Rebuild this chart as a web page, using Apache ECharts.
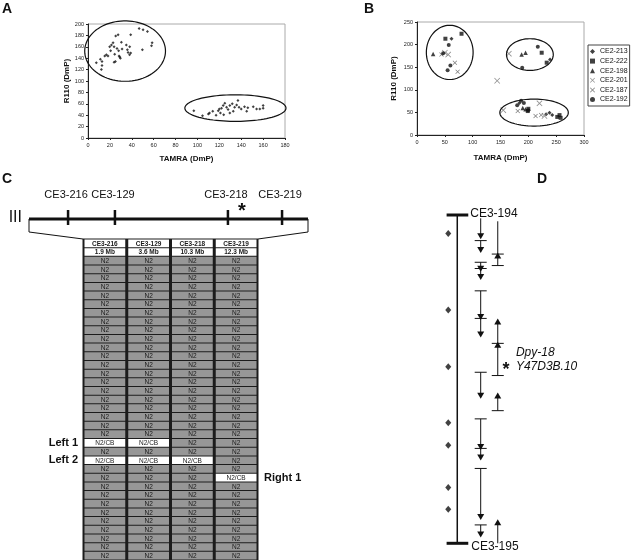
<!DOCTYPE html>
<html>
<head>
<meta charset="utf-8">
<script src="https://cdn.jsdelivr.net/npm/echarts@6/dist/echarts.min.js"></script>
<style>
  html, body { margin: 0; padding: 0; background: #fff; }
  #chart { width: 632px; height: 560px; }
</style>
</head>
<body>
<div id="chart"></div>
<script>
// ---- panel A : genotyping scatter (TAMRA vs R110) ----
const aGroup1 = [[7.6,132],[11.3,138],[12.8,134],[12.8,127],[12.2,120],[15.3,144],[16.8,146],[18.3,144],
  [19.8,160],[20.7,153],[21.4,163],[22.9,167],[23.8,160],[24.4,147],[23.8,133],[25,134],[25.3,179],
  [27.5,181],[26.5,157],[28,153],[28.4,144],[29.6,140],[29,142],[30.5,168],[31.1,156],[35,163],[36,155],
  [36.6,150],[38.1,160],[39,149],[38,146],[39,181],[46.7,192],[50.3,190],[54.3,187],[49.7,155],[58,162],[58.6,167]];
const aGroup2 = [[96.7,48],[104.6,39],[110,42],[111,44],[114,47],[117,40],[119,48],[120,51],[121,44],
  [122,52],[123.5,57],[125,61],[126.6,54],[128,50],[129.6,57],[131.8,60],[132.7,47],[134,54],[135.8,58],
  [137,66],[138,54],[140,51],[143,55],[145,47],[146,53],[151,55],[154,51],[157,51],[160,57],[160,52],
  [129.6,44],[124,41]];
const aEllipses = [[33.9,152.5,36.9,53],[134.7,52.5,46.2,23.3]]; // cx, cy, rx, ry

// ---- panel B : six markers ----
const bNames = ['CE2-213','CE2-222','CE2-198','CE2-201','CE2-187','CE2-192'];
const b213 = [[62,213],[239,167],[184,71],[238,49],[243,44],[232,46]];
const b222 = [[80,224],[51,213],[224,182],[233,160],[199,53],[252,40],[256,44],[258,38],[200,58]];
const b198 = [[29,179],[188,178],[195,182],[195,57],[190,60]];
const b201 = [[50,182],[56,178],[144,120],[165,180],[155,55],[220,70],[229,42]];
const b187 = [[68,160],[73,140],[44,178],[181,53],[213,42],[223,44]];
const b192 = [[57,199],[60,154],[55,143],[47,181],[217,195],[189,149],[180,66],[187,76],[192,71],[200,55]];
const bEllipses = [[58.8,182.7,42,60],[202.8,178,42,35],[210.3,49.6,61.5,29.8]];

// ---- panel C : chromosome III and recombinant table ----
const markers = ['CE3-216','CE3-129','CE3-218','CE3-219'];
const markerMb = ['1.9 Mb','3.6 Mb','10.3 Mb','12.3 Mb'];
const chromPos = [14, 30.8, 71.3, 90.7];   // drawn position along bar (0-100)
const starPos = 76.3;
const wormCount = 35;
const recombRows = [21, 23, 25];
const recombLabels = ['Left 1','Left 2','Right 1'];
const recombCols = [[0,1],[0,1,2],[3]];

// ---- panel D : fine mapping ----
const dEnds = ['CE3-194','CE3-195'];
const dDiamonds = [5.6, 28.9, 46.2, 63.3, 70.1, 83, 89.6];
const dDown = [[1,7.4,0],[7.8,11.6,1],[14.4,17.3,1],[16.3,19.8,1],[23.1,32,1],[31.5,37.3,1],
  [47.9,56,1],[62.1,71.6,1],[71.1,74.8,1],[77.2,92.9,1],[94.4,98.2,1]]; // start, tip, tick
const dUp = [[1,11.9,0,1],[11.4,15.4,1,1],[31.5,39.1,1,1],[38.6,48.9,1,1],[54.1,59.6,1,1],[92.7,100,1,0]]; // tip, end, arrow, tick
const geneLabels = ['Dpy-18','Y47D3B.10'];
const geneAt = 45.4;

const FONT = 'Liberation Sans, Arial, sans-serif';
const INK = '#111';
const TABLE = { left: 83, top: 239, width: 175, height: 321 };
const CHROM = { left: 29, top: 185, width: 279, height: 50 };

function ellipseItem(params, api) {
  const cx = api.value(0), cy = api.value(1), rx = api.value(2), ry = api.value(3);
  const pts = [];
  for (let k = 0; k < 90; k++) {
    const t = k / 90 * Math.PI * 2;
    pts.push(api.coord([cx + rx * Math.cos(t), cy + ry * Math.sin(t)]));
  }
  return { type: 'polygon', shape: { points: pts }, style: { fill: 'none', stroke: INK, lineWidth: 1.2 } };
}

function scatterAxis(gi, max, step, name, gap) {
  return {
    gridIndex: gi, type: 'value', min: 0, max: max, interval: step,
    name: name, nameLocation: 'middle', nameGap: gap,
    nameTextStyle: { fontSize: 8, fontWeight: 'bold', color: INK, fontFamily: FONT },
    axisLine: { show: true, onZero: false, lineStyle: { color: '#222', width: 1 } },
    axisTick: { show: true, length: 2, lineStyle: { color: '#222' } },
    axisLabel: { fontSize: 5.5, color: '#222', margin: 4, fontFamily: FONT },
    splitLine: { show: false }
  };
}
function hiddenAxis(gi, opts) {
  return Object.assign({ gridIndex: gi, show: false, splitLine: { show: false } }, opts);
}

const cross = 'path://M1,0 L5,4 L9,0 L10,1 L6,5 L10,9 L9,10 L5,6 L1,10 L0,9 L4,5 L0,1 Z';

// table cells
const cells = [];
markers.forEach((m, c) => {
  cells.push([c, 0, m, 'head']);
  cells.push([c, 1, markerMb[c], 'head']);
});
for (let r = 0; r < wormCount; r++) {
  for (let c = 0; c < markers.length; c++) {
    const k = recombRows.indexOf(r);
    const cb = k >= 0 && recombCols[k].indexOf(c) >= 0;
    cells.push([c, r + 2, cb ? 'N2/CB' : 'N2', cb ? 'cb' : 'n2']);
  }
}
const rowNames = [];
for (let r = 0; r < wormCount + 2; r++) rowNames.push('r' + r);

const chart = echarts.init(document.getElementById('chart'), null, { renderer: 'canvas' });

const option = {
  animation: false,
  backgroundColor: '#fff',
  textStyle: { fontFamily: FONT },
  graphic: [
    { type: 'text', left: 2, top: 2, style: { text: 'A', font: 'bold 14px ' + FONT, fill: INK } },
    { type: 'text', left: 364, top: 2, style: { text: 'B', font: 'bold 14px ' + FONT, fill: INK } },
    { type: 'text', left: 2, top: 172, style: { text: 'C', font: 'bold 14px ' + FONT, fill: INK } },
    { type: 'text', left: 537, top: 172, style: { text: 'D', font: 'bold 14px ' + FONT, fill: INK } }
  ],
  legend: {
    orient: 'vertical', left: 588, top: 45, padding: [3, 2, 3, 2],
    itemWidth: 5, itemHeight: 5, itemGap: 2.6,
    borderColor: '#444', borderWidth: 1,
    textStyle: { fontSize: 7, color: INK, fontFamily: FONT },
    data: bNames
  },
  grid: [
    { left: 88, top: 24, width: 197, height: 114, show: true, borderColor: '#aaa', borderWidth: 1 },
    { left: 417, top: 22, width: 167, height: 113, show: true, borderColor: '#aaa', borderWidth: 1 },
    { left: CHROM.left, top: CHROM.top, width: CHROM.width, height: CHROM.height },
    { left: TABLE.left, top: TABLE.top, width: TABLE.width, height: TABLE.height,
      show: true, backgroundColor: '#1c1c1c', borderColor: '#1c1c1c', borderWidth: 1 },
    { left: 440, top: 215, width: 110, height: 328.3 }
  ],
  xAxis: [
    scatterAxis(0, 180, 20, 'TAMRA (DmP)', 17),
    scatterAxis(1, 300, 50, 'TAMRA (DmP)', 19),
    hiddenAxis(2, { type: 'value', min: 0, max: 100 }),
    hiddenAxis(3, { type: 'category', data: markers }),
    hiddenAxis(4, { type: 'value', min: 0, max: 10 })
  ],
  yAxis: [
    scatterAxis(0, 200, 20, 'R110 (DmP)', 17),
    scatterAxis(1, 250, 50, 'R110 (DmP)', 19),
    hiddenAxis(2, { type: 'value', min: -20, max: 30, inverse: true }),
    hiddenAxis(3, { type: 'category', data: rowNames, inverse: true }),
    hiddenAxis(4, { type: 'value', min: 0, max: 100, inverse: true })
  ],
  series: [
    // A
    { type: 'scatter', xAxisIndex: 0, yAxisIndex: 0, data: aGroup1, symbol: 'diamond', symbolSize: 3, itemStyle: { color: INK } },
    { type: 'scatter', xAxisIndex: 0, yAxisIndex: 0, data: aGroup2, symbol: 'diamond', symbolSize: 3, itemStyle: { color: INK } },
    { type: 'custom', xAxisIndex: 0, yAxisIndex: 0, data: aEllipses, renderItem: ellipseItem, z: 3 },
    // B
    { name: bNames[0], type: 'scatter', xAxisIndex: 1, yAxisIndex: 1, data: b213, symbol: 'diamond', symbolSize: 4, itemStyle: { color: INK } },
    { name: bNames[1], type: 'scatter', xAxisIndex: 1, yAxisIndex: 1, data: b222, symbol: 'rect', symbolSize: 4, itemStyle: { color: INK } },
    { name: bNames[2], type: 'scatter', xAxisIndex: 1, yAxisIndex: 1, data: b198, symbol: 'triangle', symbolSize: 4.5, itemStyle: { color: INK } },
    { name: bNames[3], type: 'scatter', xAxisIndex: 1, yAxisIndex: 1, data: b201, symbol: cross, symbolSize: 6, itemStyle: { color: '#777' } },
    { name: bNames[4], type: 'scatter', xAxisIndex: 1, yAxisIndex: 1, data: b187, symbol: cross, symbolSize: 4.5, itemStyle: { color: '#555' } },
    { name: bNames[5], type: 'scatter', xAxisIndex: 1, yAxisIndex: 1, data: b192, symbol: 'circle', symbolSize: 4, itemStyle: { color: INK } },
    { type: 'custom', xAxisIndex: 1, yAxisIndex: 1, data: bEllipses, renderItem: ellipseItem, z: 3 },
    // C chromosome bar + zoom trapezoid
    {
      type: 'custom', xAxisIndex: 2, yAxisIndex: 2, data: [[0, 100]],
      renderItem: function (params, api) {
        const a = api.coord([api.value(0), 14]), b = api.coord([api.value(1), 14]);
        const la = api.coord([api.value(0), 27]), lb = api.coord([api.value(1), 27]);
        const ls = { stroke: INK, lineWidth: 1 };
        return { type: 'group', children: [
          { type: 'line', shape: { x1: a[0], y1: a[1], x2: b[0], y2: b[1] }, style: { stroke: INK, lineWidth: 3 } },
          { type: 'line', shape: { x1: la[0], y1: a[1], x2: la[0], y2: la[1] }, style: ls },
          { type: 'line', shape: { x1: lb[0], y1: b[1], x2: lb[0], y2: lb[1] }, style: ls },
          { type: 'line', shape: { x1: la[0], y1: la[1], x2: TABLE.left, y2: TABLE.top }, style: ls },
          { type: 'line', shape: { x1: lb[0], y1: lb[1], x2: TABLE.left + TABLE.width, y2: TABLE.top }, style: ls },
          { type: 'text', style: { text: 'III', x: a[0] - 7, y: a[1] - 1, align: 'right', verticalAlign: 'middle',
            font: '16px ' + FONT, fill: INK } }
        ] };
      }
    },
    // C marker ticks
    {
      type: 'custom', xAxisIndex: 2, yAxisIndex: 2, data: chromPos.map((p, i) => [p, i]),
      renderItem: function (params, api) {
        const top = api.coord([api.value(0), 5]), bot = api.coord([api.value(0), 20]);
        const lab = api.coord([api.value(0), -10]);
        return { type: 'group', children: [
          { type: 'line', shape: { x1: top[0], y1: top[1], x2: bot[0], y2: bot[1] }, style: { stroke: INK, lineWidth: 2.5 } },
          { type: 'text', style: { text: markers[api.value(1)], x: lab[0] - 2, y: lab[1], align: 'center', verticalAlign: 'middle',
            font: '11px ' + FONT, fill: INK } }
        ] };
      }
    },
    {
      type: 'custom', xAxisIndex: 2, yAxisIndex: 2, data: [[starPos, 6]],
      renderItem: function (params, api) {
        const p = api.coord([api.value(0), api.value(1)]);
        return { type: 'text', style: { text: '*', x: p[0], y: p[1], align: 'center', verticalAlign: 'middle',
          font: 'bold 20px ' + FONT, fill: INK } };
      }
    },
    // C table
    {
      type: 'custom', xAxisIndex: 3, yAxisIndex: 3, data: cells,
      renderItem: function (params, api) {
        const p = api.coord([api.value(0), api.value(1)]);
        const s = api.size([1, 1]);
        const item = cells[params.dataIndex];
        const kind = item[3];
        const fill = kind === 'n2' ? '#979797' : '#fff';
        return { type: 'group', children: [
          { type: 'rect', shape: { x: p[0] - s[0] / 2 + 1.5, y: p[1] - s[1] / 2 + 0.5, width: s[0] - 3, height: s[1] - 1 },
            style: { fill: fill } },
          { type: 'text', style: { text: item[2], x: p[0], y: p[1] + 0.5, align: 'center', verticalAlign: 'middle',
            font: (kind === 'head' ? 'bold ' : '') + '6.5px ' + FONT, fill: '#1a1a1a' } }
        ] };
      }
    },
    // C row labels
    {
      type: 'custom', xAxisIndex: 3, yAxisIndex: 3,
      data: recombRows.map((r, i) => [recombCols[i][0] === 0 ? 0 : markers.length - 1, r + 2, i]),
      renderItem: function (params, api) {
        const p = api.coord([api.value(0), api.value(1)]);
        const s = api.size([1, 1]);
        const left = api.value(0) === 0;
        return { type: 'text', style: { text: recombLabels[api.value(2)],
          x: left ? p[0] - s[0] / 2 - 5 : p[0] + s[0] / 2 + 6, y: p[1],
          align: left ? 'right' : 'left', verticalAlign: 'middle', font: 'bold 11px ' + FONT, fill: INK } };
      }
    },
    // D main interval
    {
      type: 'custom', xAxisIndex: 4, yAxisIndex: 4, data: [[0, 100]],
      renderItem: function (params, api) {
        const t = api.coord([1.57, api.value(0)]), b = api.coord([1.57, api.value(1)]);
        const tl = api.coord([0.6, api.value(0)]), tr = api.coord([2.57, api.value(0)]);
        const bl = api.coord([0.6, api.value(1)]), br = api.coord([2.57, api.value(1)]);
        return { type: 'group', children: [
          { type: 'line', shape: { x1: t[0], y1: t[1], x2: b[0], y2: b[1] }, style: { stroke: INK, lineWidth: 1.5 } },
          { type: 'line', shape: { x1: tl[0], y1: tl[1], x2: tr[0], y2: tr[1] }, style: { stroke: INK, lineWidth: 3 } },
          { type: 'line', shape: { x1: bl[0], y1: bl[1], x2: br[0], y2: br[1] }, style: { stroke: INK, lineWidth: 3 } },
          { type: 'text', style: { text: dEnds[0], x: tr[0] + 2, y: tr[1] - 1, align: 'left', verticalAlign: 'middle',
            font: '12px ' + FONT, fill: INK } },
          { type: 'text', style: { text: dEnds[1], x: br[0] + 3, y: br[1] + 3, align: 'left', verticalAlign: 'middle',
            font: '12px ' + FONT, fill: INK } }
        ] };
      }
    },
    {
      type: 'scatter', xAxisIndex: 4, yAxisIndex: 4, data: dDiamonds.map(v => [0.75, v]),
      symbol: 'diamond', symbolSize: [6, 7], itemStyle: { color: INK }
    },
    // D down arrows (col 1)
    {
      type: 'custom', xAxisIndex: 4, yAxisIndex: 4, data: dDown,
      renderItem: function (params, api) {
        const s = api.coord([3.7, api.value(0)]), e = api.coord([3.7, api.value(1)]);
        const ch = [
          { type: 'line', shape: { x1: s[0], y1: s[1], x2: e[0], y2: e[1] - 3 }, style: { stroke: INK, lineWidth: 1 } },
          { type: 'polygon', shape: { points: [[e[0] - 3.5, e[1] - 6], [e[0] + 3.5, e[1] - 6], [e[0], e[1]]] }, style: { fill: INK } }
        ];
        if (api.value(2)) ch.push({ type: 'line', shape: { x1: s[0] - 6, y1: s[1], x2: s[0] + 6, y2: s[1] }, style: { stroke: INK, lineWidth: 1 } });
        return { type: 'group', children: ch };
      }
    },
    // D up arrows (col 2)
    {
      type: 'custom', xAxisIndex: 4, yAxisIndex: 4, data: dUp,
      renderItem: function (params, api) {
        const s = api.coord([5.25, api.value(0)]), e = api.coord([5.25, api.value(1)]);
        const ch = [
          { type: 'line', shape: { x1: s[0], y1: s[1] + 3, x2: e[0], y2: e[1] }, style: { stroke: INK, lineWidth: 1 } }
        ];
        if (api.value(2)) ch.push({ type: 'polygon', shape: { points: [[s[0] - 3.5, s[1] + 6], [s[0] + 3.5, s[1] + 6], [s[0], s[1]]] }, style: { fill: INK } });
        if (api.value(3)) ch.push({ type: 'line', shape: { x1: e[0] - 6, y1: e[1], x2: e[0] + 6, y2: e[1] }, style: { stroke: INK, lineWidth: 1 } });
        return { type: 'group', children: ch };
      }
    },
    // D gene labels
    {
      type: 'custom', xAxisIndex: 4, yAxisIndex: 4, data: [[6.9, geneAt]],
      renderItem: function (params, api) {
        const p = api.coord([api.value(0), api.value(1)]);
        return { type: 'group', children: [
          { type: 'text', style: { text: geneLabels[0], x: p[0], y: p[1] - 11, align: 'left', verticalAlign: 'middle',
            font: 'italic 12px ' + FONT, fill: INK } },
          { type: 'text', style: { text: geneLabels[1], x: p[0], y: p[1] + 3, align: 'left', verticalAlign: 'middle',
            font: 'italic 12px ' + FONT, fill: INK } },
          { type: 'text', style: { text: '*', x: p[0] - 10, y: p[1] + 6, align: 'center', verticalAlign: 'middle',
            font: 'bold 18px ' + FONT, fill: INK } }
        ] };
      }
    }
  ]
};

chart.setOption(option);
</script>
</body>
</html>
